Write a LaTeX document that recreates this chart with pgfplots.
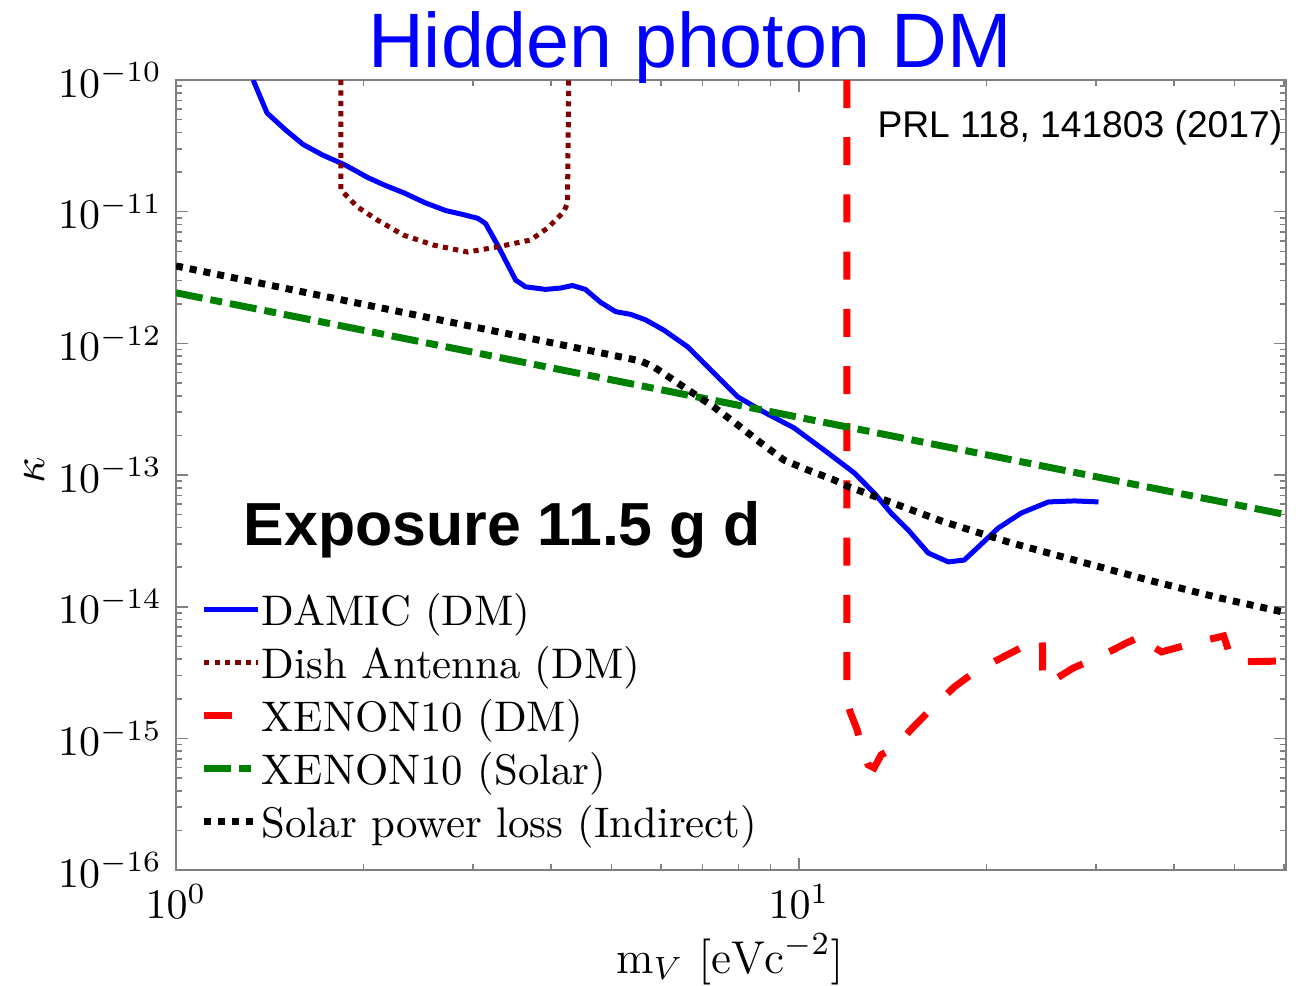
\RequirePackage{fix-cm}
\documentclass[border=0pt]{standalone}
\usepackage{fontspec}
\usepackage{pgfplots}
\pgfplotsset{compat=1.18}
\newfontfamily\arialfont{Liberation Sans}
\definecolor{dishred}{RGB}{128,0,0}
\definecolor{xgreen}{RGB}{0,128,0}

\begin{document}
\begin{tikzpicture}
\begin{axis}[name=ax, scale only axis, width=277.5pt, height=197.5pt,
  xmode=log, ymode=log, xmin=1, xmax=60.5, ymin=1e-16, ymax=1e-10,
  xtick={1,10}, xticklabels={$10^{0}$,$10^{1}$},
  minor xtick={2,3,4,5,6,7,8,9,20,30,40,50,60},
  axis line style={draw=gray, line width=0.5pt},
  tick style={draw=gray, line width=0.4pt},
  major tick length=3pt, minor tick length=1.5pt,
  tick label style={font=\fontsize{10.5}{13}\selectfont},
  label style={font=\fontsize{11.5}{13}\selectfont},
  xlabel={$\mathrm{m}_V\ [\mathrm{eVc}^{-2}]$},
  ylabel={$\kappa$},
  xlabel style={at={(axis description cs:0.499,-0.1304)}, anchor=base},
  ylabel style={at={(axis description cs:-0.127,0.506)}, anchor=center},
  legend cell align=left,
  legend style={at={(axis description cs:0.0216,0.0266)}, anchor=south west,
    draw=none, fill=none, inner sep=0pt, row sep=0pt,
    font=\fontsize{10.7}{13}\selectfont,
    nodes={inner sep=0pt, text height=10.5pt, text depth=2.75pt}},
  legend image code/.code={\draw[#1] (0pt,0pt) -- (13.5pt,0pt);},
]
\addplot[blue, line width=1.25pt, line join=round] coordinates {
(1.33,1.00e-10) (1.40,5.62e-11) (1.50,4.17e-11) (1.60,3.24e-11) (1.72,2.69e-11)
(1.87,2.26e-11) (2.03,1.82e-11) (2.17,1.58e-11) (2.33,1.38e-11) (2.51,1.17e-11)
(2.71,1.02e-11) (2.88,9.55e-12) (3.05,8.91e-12) (3.14,8.13e-12) (3.28,5.62e-12)
(3.51,3.02e-12) (3.64,2.69e-12) (3.92,2.57e-12) (4.14,2.63e-12) (4.33,2.75e-12)
(4.54,2.57e-12) (4.81,2.04e-12) (5.08,1.74e-12) (5.37,1.66e-12) (5.67,1.51e-12)
(6.07,1.26e-12) (6.63,9.40e-13) (7.14,6.62e-13) (7.98,3.92e-13) (8.78,3.01e-13)
(9.82,2.28e-13) (10.97,1.55e-13) (12.26,1.04e-13) (13.20,7.31e-14) (14.06,5.13e-14)
(14.97,3.83e-14) (16.12,2.56e-14) (17.36,2.19e-14) (18.42,2.26e-14) (19.40,2.84e-14)
(20.89,3.96e-14) (22.75,5.15e-14) (25.14,6.25e-14) (27.68,6.36e-14) (30.25,6.25e-14)
};
\addlegendentry{DAMIC (DM)}
\addplot[dishred, line width=1.25pt, dash pattern=on 1.3pt off 1.3pt] coordinates {
(1.84,1.00e-10) (1.84,1.46e-11) (1.954,1.09e-11) (2.104,8.65e-12) (2.317,6.65e-12)
(2.589,5.58e-12) (2.938,4.94e-12) (3.28,5.40e-12) (3.71,6.10e-12) (3.95,7.52e-12)
(4.19,9.95e-12) (4.25,1.16e-11) (4.27,1.00e-10)
};
\addlegendentry{Dish Antenna (DM)}
\addplot[red, line width=1.75pt, dash pattern=on 7pt off 7.3pt] coordinates {
(11.94,1e-10) (11.94,1.96e-15) (12.08,1.59e-15) (12.40,1.16e-15) (12.63,8.18e-16)
(12.91,6.30e-16) (13.20,5.97e-16) (13.55,7.50e-16) (14.21,8.47e-16) (15.26,1.22e-15)
(16.42,1.73e-15) (17.76,2.46e-15) (19.26,3.26e-15) (21.28,4.16e-15) (23.35,5.22e-15)
(24.50,5.79e-15) (24.59,5.60e-15) (24.62,2.69e-15) (25.05,2.59e-15) (27.57,3.43e-15)
(30.36,4.16e-15) (33.56,5.31e-15) (35.87,6.11e-15) (36.54,5.13e-15) (38.20,4.54e-15)
(43.15,5.31e-15) (48.05,6.00e-15) (48.76,4.86e-15) (49.49,3.81e-15) (60.5,3.87e-15)
};
\addlegendentry{XENON10 (DM)}
\addplot[xgreen, line width=1.75pt, dash pattern=on 6.75pt off 2pt on 3pt off 2pt] coordinates {
(1,2.42e-12) (60.5,5.0e-14)
};
\addlegendentry{XENON10 (Solar)}
\addplot[black, line width=1.75pt, dash pattern=on 1.75pt off 1.75pt] coordinates {
(1,3.87e-12) (5.57,7.35e-13) (5.85,6.62e-13) (6.71,4.28e-13) (7.30,3.29e-13)
(7.98,2.40e-13) (8.69,1.75e-13) (9.46,1.30e-13) (10.34,1.09e-13) (11.38,9.18e-14)
(12.03,8.13e-14) (16.92,4.48e-14) (21.92,3.05e-14) (27.68,2.26e-14) (36.81,1.57e-14)
(47.16,1.17e-14) (60.5,9.0e-15)
};
\addlegendentry{Solar power loss (Indirect)}
\end{axis}
\node[anchor=base, inner sep=0pt, text=blue, font=\arialfont\fontsize{19.3}{20}\selectfont]
  at ([xshift=128.5pt,yshift=3pt]ax.north west) {Hidden photon DM};
\node[anchor=base east, inner sep=0pt, font=\arialfont\fontsize{9.3}{11}\selectfont]
  at ([xshift=276.75pt,yshift=-14.5pt]ax.north west) {PRL 118, 141803 (2017)};
\node[anchor=base west, inner sep=0pt, font=\arialfont\bfseries\fontsize{15.2}{17}\selectfont]
  at ([xshift=16.75pt,yshift=-116.25pt]ax.north west) {Exposure 11.5 g d};
\pgfresetboundingbox
\path[use as bounding box] ([xshift=-44pt,yshift=-28.75pt]ax.south west) rectangle ([xshift=3.25pt,yshift=20pt]ax.north east);
\end{tikzpicture}
\end{document}
